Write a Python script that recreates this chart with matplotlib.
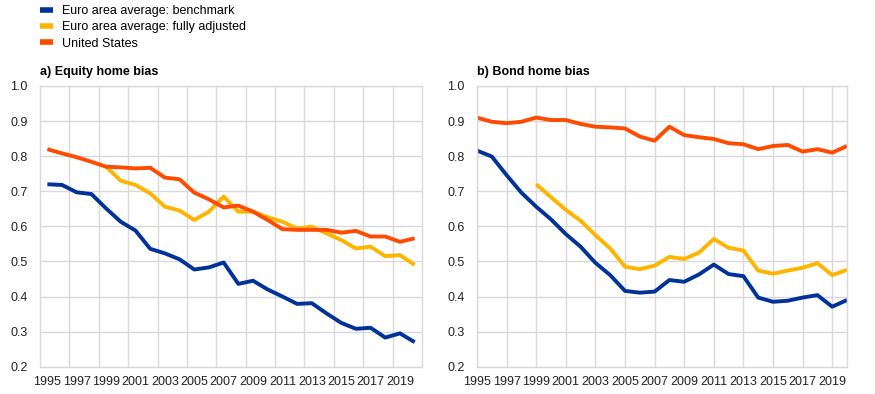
import numpy as np
import matplotlib
matplotlib.use('Agg')
import matplotlib.pyplot as plt

years = list(range(1995, 2021))
years_adj = list(range(1999, 2021))

# a) Equity home bias
eq_benchmark = [0.720, 0.718, 0.697, 0.692, 0.651, 0.613, 0.588, 0.536, 0.523, 0.506,
                0.477, 0.483, 0.497, 0.436, 0.445, 0.420, 0.400, 0.379, 0.381, 0.352,
                0.325, 0.308, 0.311, 0.283, 0.295, 0.270]
eq_adjusted = [0.770, 0.730, 0.718, 0.694, 0.656, 0.645, 0.618, 0.642, 0.685, 0.642,
               0.642, 0.626, 0.613, 0.594, 0.599, 0.580, 0.561, 0.537, 0.542, 0.515,
               0.518, 0.490]
eq_us = [0.820, 0.808, 0.797, 0.784, 0.770, 0.768, 0.765, 0.767, 0.739, 0.734,
         0.696, 0.677, 0.654, 0.659, 0.642, 0.618, 0.592, 0.590, 0.590, 0.590,
         0.582, 0.587, 0.571, 0.571, 0.556, 0.566]

# b) Bond home bias
bd_benchmark = [0.816, 0.799, 0.746, 0.696, 0.656, 0.620, 0.578, 0.542, 0.496, 0.461,
                0.416, 0.411, 0.414, 0.447, 0.442, 0.463, 0.491, 0.464, 0.458, 0.397,
                0.385, 0.388, 0.397, 0.404, 0.371, 0.390]
bd_adjusted = [0.720, 0.683, 0.647, 0.616, 0.575, 0.537, 0.485, 0.478, 0.488, 0.513,
               0.507, 0.525, 0.564, 0.539, 0.531, 0.474, 0.465, 0.474, 0.482, 0.495,
               0.461, 0.476]
bd_us = [0.910, 0.898, 0.894, 0.898, 0.910, 0.903, 0.903, 0.892, 0.884, 0.882,
         0.879, 0.856, 0.844, 0.884, 0.860, 0.854, 0.849, 0.837, 0.834, 0.820,
         0.829, 0.832, 0.813, 0.820, 0.810, 0.829]

labels = ['Euro area average: benchmark', 'Euro area average: fully adjusted', 'United States']
colors = ['#003299', '#FFB400', '#FF4B00']
tick_years = list(range(1995, 2020, 2))

plt.rcParams['font.family'] = ['Liberation Sans', 'DejaVu Sans']

fig = plt.figure(figsize=(8.75, 3.94), dpi=100)
W, H = 875, 394
ax_a = fig.add_axes([40 / W, 1 - 366.7 / H, 382 / W, 280.7 / H])
ax_b = fig.add_axes([477 / W, 1 - 366.7 / H, 370 / W, 280.7 / H])

lw = 2.8
for ax, bench, adj, us, title in [(ax_a, eq_benchmark, eq_adjusted, eq_us, 'a) Equity home bias'),
                                  (ax_b, bd_benchmark, bd_adjusted, bd_us, 'b) Bond home bias')]:
    l1, = ax.plot(years, bench, color=colors[0], lw=lw, solid_capstyle='butt')
    l2, = ax.plot(years_adj, adj, color=colors[1], lw=lw, solid_capstyle='butt')
    l3, = ax.plot(years, us, color=colors[2], lw=lw, solid_capstyle='butt')
    ax.set_ylim(0.2, 1.0)
    ax.set_yticks(np.arange(0.2, 1.01, 0.1))
    ax.set_yticklabels(['%.1f' % v for v in np.arange(0.2, 1.01, 0.1)])
    ax.set_xticks(tick_years)
    ax.set_xticklabels([str(y) for y in tick_years])
    ax.tick_params(length=0, labelsize=9, colors='#222222')
    ax.tick_params(axis='y', pad=9)
    ax.tick_params(axis='x', pad=7)
    ax.grid(axis='y', color='#d9d9d9', lw=1)
    for s in ax.spines.values():
        s.set_color('#d9d9d9')
        s.set_linewidth(1)
    ax.set_axisbelow(True)
    ax.text(0.0, 1.03, title, transform=ax.transAxes, fontsize=9, fontweight='bold',
            ha='left', va='bottom')

# panel a: category-style axis, gridlines between categories
ax_a.set_xlim(1994.5, 2020.5)
ax_a.set_xticks(np.arange(1996.5, 2020, 2), minor=True)
ax_a.tick_params(which='minor', length=0)
ax_a.grid(axis='x', which='minor', color='#d9d9d9', lw=1)

# panel b: value axis, gridlines on labels
ax_b.set_xlim(1995, 2020)
ax_b.grid(axis='x', which='major', color='#d9d9d9', lw=1)

fig.legend([l1, l2, l3], labels, loc='upper left', bbox_to_anchor=(35 / W, 1.0),
           frameon=False, fontsize=9, handlelength=1.0, handletextpad=0.8,
           labelspacing=0.35, borderaxespad=0.0)
for h in fig.legends[0].get_lines():
    h.set_linewidth(4)

fig.savefig('out.png', dpi=100)
